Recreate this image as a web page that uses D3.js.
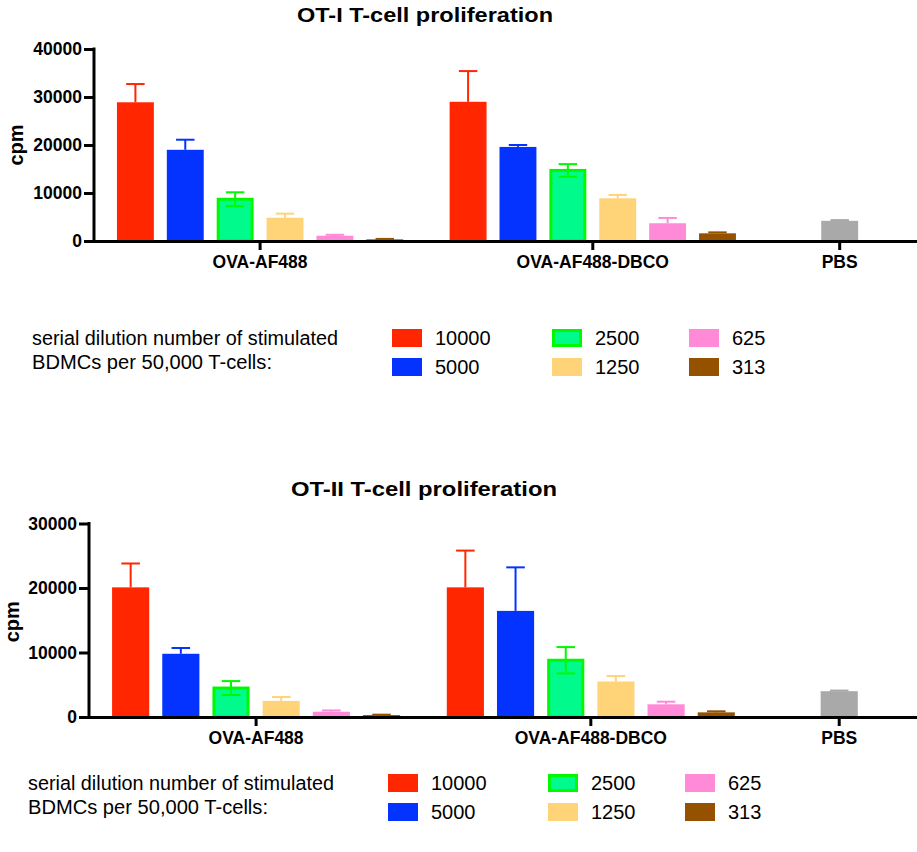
<!DOCTYPE html>
<html>
<head>
<meta charset="utf-8">
<script src="https://cdn.jsdelivr.net/npm/d3@7"></script>
<style>
  html, body { margin: 0; padding: 0; background: #fff; }
  svg { display: block; font-family: "Liberation Sans", Arial, Helvetica, sans-serif; }
</style>
</head>
<body>
<svg id="chart" width="917" height="852"></svg>
<script>
// ---- data ----
const groups = ["OVA-AF488", "OVA-AF488-DBCO", "PBS"];
const dilutions = ["10000", "5000", "2500", "1250", "625", "313"];
const dilutionColors = ["#ff2600", "#0433ff", "#00fa8c", "#ffd479", "#ff8ad8", "#945200"];
const pbsColor = "#a9a9a9";
const legendTitle = ["serial dilution number of stimulated", "BDMCs per 50,000 T-cells:"];

// OT-I panel (mean cpm and SEM per dilution)
const ot1Ticks = [0, 10000, 20000, 30000, 40000];
const ot1AF488 = [28900, 19000, 8700, 4850, 1100, 350];
const ot1AF488Err = [3800, 2100, 1450, 850, 200, 80];
const ot1DBCO = [29000, 19600, 14700, 8900, 3700, 1600];
const ot1DBCOErr = [6400, 400, 1320, 700, 1100, 200];
const ot1PBS = [4200];
const ot1PBSErr = [150];

// OT-II panel
const ot2Ticks = [0, 10000, 20000, 30000];
const ot2AF488 = [20100, 9800, 4490, 2500, 820, 300];
const ot2AF488Err = [3700, 900, 1080, 600, 200, 60];
const ot2DBCO = [20100, 16450, 8800, 5500, 1970, 720];
const ot2DBCOErr = [5700, 6750, 2040, 850, 400, 160];
const ot2PBS = [4000];
const ot2PBSErr = [100];

const svg = d3.select("#chart");
svg.append("rect").attr("width", 917).attr("height", 852).attr("fill", "#fff");

const greenEdge = "#00f900";

function drawPanel(p) {
  const g = svg.append("g");
  const y = d3.scaleLinear().domain([0, d3.max(p.ticks)]).range([p.y0, p.yTop]);
  const x = d3.scaleLinear().domain([0, 16.5]).range([p.axisX, 917]);
  const groupCenter = [3.33, 10, 14.95];
  const barW = x(0.74) - x(0);
  const capW = barW / 2;

  // assemble bar records
  const bars = [];
  [[p.af488, p.af488Err], [p.dbco, p.dbcoErr]].forEach(([vals, errs], gi) => {
    vals.forEach((v, si) => {
      bars.push({ pos: groupCenter[gi] + (si - 2.5), v, e: errs[si],
        fill: dilutionColors[si], edge: si === 2 ? greenEdge : null, both: si === 2,
        color: si === 2 ? greenEdge : dilutionColors[si] });
    });
  });
  p.pbs.forEach((v, i) => {
    bars.push({ pos: groupCenter[2], v, e: p.pbsErr[i], fill: pbsColor, edge: null, both: false, color: pbsColor });
  });

  // bars
  g.selectAll("rect.bar").data(bars).join("rect")
    .attr("class", "bar")
    .attr("x", d => x(d.pos) - barW / 2 + (d.edge ? 1.5 : 0))
    .attr("y", d => y(d.v))
    .attr("width", d => barW - (d.edge ? 3 : 0))
    .attr("height", d => p.y0 - y(d.v))
    .attr("fill", d => d.fill)
    .attr("stroke", d => d.edge)
    .attr("stroke-width", d => d.edge ? 3 : 0);

  // error bars
  const eg = g.append("g").attr("stroke-width", 2).attr("fill", "none");
  bars.forEach(d => {
    const cx = x(d.pos);
    const lo = d.both ? d.v - d.e : d.v;
    const hi = d.v + d.e;
    eg.append("line").attr("x1", cx).attr("x2", cx).attr("y1", y(lo)).attr("y2", y(hi)).attr("stroke", d.color);
    eg.append("line").attr("x1", cx - capW / 2).attr("x2", cx + capW / 2).attr("y1", y(hi)).attr("y2", y(hi)).attr("stroke", d.color);
    if (d.both) {
      eg.append("line").attr("x1", cx - capW / 2).attr("x2", cx + capW / 2).attr("y1", y(lo)).attr("y2", y(lo)).attr("stroke", d.color);
    }
  });

  // y axis
  const ya = g.append("g").attr("transform", `translate(${p.axisX},0)`)
    .call(d3.axisLeft(y).tickValues(p.ticks).tickFormat(d3.format("d")).tickSize(10).tickSizeOuter(0).tickPadding(2));
  ya.select(".domain").attr("stroke", "#000").attr("stroke-width", 3).attr("d", `M0,${p.yTop - 1.5}V${p.y0 + 1.5}`);
  ya.selectAll(".tick line").attr("stroke", "#000").attr("stroke-width", 3);
  ya.selectAll(".tick text").attr("fill", "#000").attr("font-size", 17.5).attr("font-weight", "bold")
    .attr("font-family", "Liberation Sans, Arial, sans-serif");

  // x axis
  g.append("line").attr("x1", p.axisX).attr("x2", 917).attr("y1", p.y0 + 0.5).attr("y2", p.y0 + 0.5)
    .attr("stroke", "#000").attr("stroke-width", 3);
  groups.forEach((name, gi) => {
    const cx = x(groupCenter[gi]);
    g.append("line").attr("x1", cx).attr("x2", cx).attr("y1", p.y0).attr("y2", p.y0 + 9)
      .attr("stroke", "#000").attr("stroke-width", 3);
    g.append("text").attr("x", cx).attr("y", p.y0 + 26.5).attr("text-anchor", "middle")
      .attr("font-size", 17.5).attr("font-weight", "bold").text(name);
  });

  // y label
  g.append("text").attr("transform", `translate(${p.yLabelX},${p.yLabelY}) rotate(-90)`)
    .attr("text-anchor", "middle").attr("font-size", 20).attr("font-weight", "bold").text("cpm");

  // title
  g.append("text").attr("x", p.titleX).attr("y", p.titleY).attr("text-anchor", "middle")
    .attr("font-size", 21).attr("font-weight", "bold")
    .attr("textLength", p.titleW).attr("lengthAdjust", "spacingAndGlyphs").text(p.title);

  // legend
  const lg = g.append("g").attr("transform", `translate(${p.legendDX},${p.legendDY})`);
  lg.append("text").attr("x", 32).attr("y", 345).attr("font-size", 20)
    .attr("textLength", 306).attr("lengthAdjust", "spacingAndGlyphs").text(legendTitle[0]);
  lg.append("text").attr("x", 32).attr("y", 369).attr("font-size", 20)
    .attr("textLength", 240).attr("lengthAdjust", "spacingAndGlyphs").text(legendTitle[1]);
  const colX = [392, 552, 689];
  const rowY = [329, 358];
  dilutions.forEach((lab, i) => {
    const cx = colX[Math.floor(i / 2)], ry = rowY[i % 2];
    if (i === 2) {
      lg.append("rect").attr("x", cx + 1.5).attr("y", ry + 1.5).attr("width", 27).attr("height", 15)
        .attr("fill", dilutionColors[i]).attr("stroke", greenEdge).attr("stroke-width", 3);
    } else {
      lg.append("rect").attr("x", cx).attr("y", ry).attr("width", 30).attr("height", 18).attr("fill", dilutionColors[i]);
    }
    lg.append("text").attr("x", cx + 43).attr("y", ry + 16.3).attr("font-size", 20).text(lab);
  });
}

drawPanel({
  title: "OT-I T-cell proliferation", titleX: 425, titleY: 21.7, titleW: 256,
  ticks: ot1Ticks, axisX: 94, y0: 241, yTop: 49,
  af488: ot1AF488, af488Err: ot1AF488Err, dbco: ot1DBCO, dbcoErr: ot1DBCOErr, pbs: ot1PBS, pbsErr: ot1PBSErr,
  yLabelX: 23, yLabelY: 145, legendDX: 0, legendDY: 0
});

drawPanel({
  title: "OT-II T-cell proliferation", titleX: 424, titleY: 495.7, titleW: 266,
  ticks: ot2Ticks, axisX: 89, y0: 717, yTop: 523.5,
  af488: ot2AF488, af488Err: ot2AF488Err, dbco: ot2DBCO, dbcoErr: ot2DBCOErr, pbs: ot2PBS, pbsErr: ot2PBSErr,
  yLabelX: 18.5, yLabelY: 621.7, legendDX: -4, legendDY: 445
});
</script>
</body>
</html>
